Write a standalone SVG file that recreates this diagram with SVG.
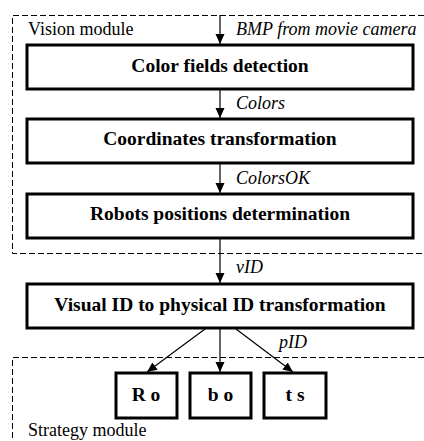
<svg xmlns="http://www.w3.org/2000/svg" width="424" height="441" viewBox="0 0 424 441">
<style>
.box{fill:#fff;stroke:#000;stroke-width:3}
.dash{fill:none;stroke:#000;stroke-width:1;stroke-dasharray:6 3}
text{font-family:"Liberation Serif","Times New Roman",Times,serif;fill:#000}
.lbl{font-size:18px}
.it{font-size:18px;font-style:italic}
.bt{font-size:19.5px;font-weight:bold;text-anchor:middle}
.con{stroke:#000;stroke-width:1.2;fill:none;marker-end:url(#ah)}
</style>
<defs>
<marker id="ah" viewBox="0 0 10 10" refX="10" refY="5" markerWidth="10" markerHeight="10" markerUnits="userSpaceOnUse" orient="auto">
<path d="M0,0.5 L10,5 L0,9.5 Z" fill="#000"/>
</marker>
</defs>
<g id="vision-module">
<path class="dash" d="M424,15.5 H12.5 V253.5 H424"/>
<text class="lbl" x="28" y="35">Vision module</text>
</g>
<g id="strategy-module">
<path class="dash" d="M424,357.5 H12.5 V441"/>
<text class="lbl" x="28" y="436">Strategy module</text>
</g>
<g id="connectors">
<line class="con" x1="220" y1="15" x2="220" y2="44"/>
<line class="con" x1="220" y1="89" x2="220" y2="118"/>
<line class="con" x1="220" y1="163" x2="220" y2="193"/>
<line class="con" x1="220" y1="238" x2="220" y2="283"/>
<line class="con" x1="205" y1="329" x2="147" y2="372"/>
<line class="con" x1="220" y1="329" x2="220" y2="372"/>
<line class="con" x1="236" y1="329" x2="293" y2="372"/>
<text class="it" x="236" y="35">BMP from movie camera</text>
<text class="it" x="236" y="109">Colors</text>
<text class="it" x="236" y="184">ColorsOK</text>
<text class="it" x="236" y="273">vID</text>
<text class="it" x="279" y="348">pID</text>
</g>
<g id="color-fields-detection">
<rect class="box" x="27" y="45" width="386" height="44"/>
<text class="bt" x="220" y="71.5">Color fields detection</text>
</g>
<g id="coordinates-transformation">
<rect class="box" x="27" y="119" width="386" height="44"/>
<text class="bt" x="220" y="145">Coordinates transformation</text>
</g>
<g id="robots-positions-determination">
<rect class="box" x="27" y="194" width="386" height="44"/>
<text class="bt" x="220" y="220">Robots positions determination</text>
</g>
<g id="visual-id-transformation">
<rect class="box" x="27" y="284" width="386" height="44"/>
<text class="bt" x="220" y="311">Visual ID to physical ID transformation</text>
</g>
<g id="ro">
<rect class="box" x="116" y="373" width="61" height="45"/>
<text class="bt" x="146" y="400.5">R o</text>
</g>
<g id="bo">
<rect class="box" x="190" y="373" width="61" height="45"/>
<text class="bt" x="220.5" y="400.5">b o</text>
</g>
<g id="ts">
<rect class="box" x="264" y="373" width="62" height="45"/>
<text class="bt" x="295" y="400.5">t s</text>
</g>
</svg>
